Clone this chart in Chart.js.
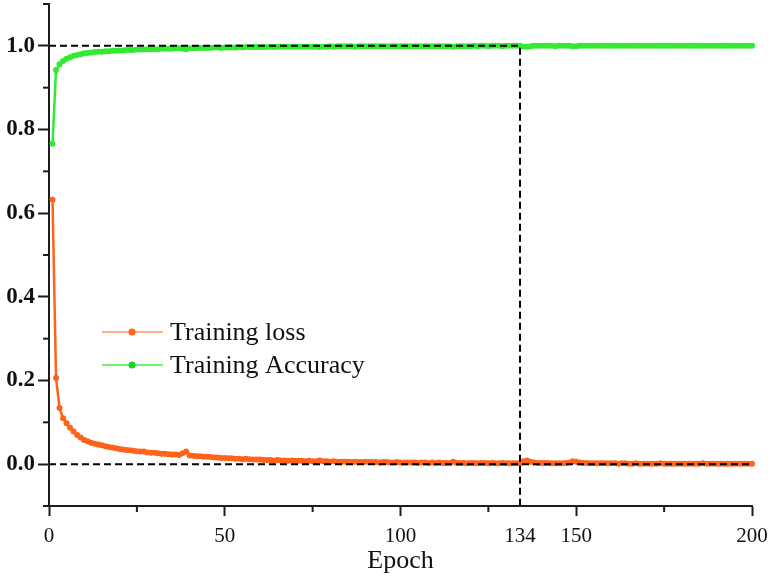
<!DOCTYPE html>
<html>
<head>
<meta charset="utf-8">
<script src="https://cdn.jsdelivr.net/npm/chart.js@4"></script>
<style>
  body { margin: 0; background: #fff; }
  #wrap { width: 771px; height: 579px; }
</style>
</head>
<body>
<div id="wrap"><canvas id="chart" width="771" height="579"></canvas></div>
<script>
// training loss per epoch (epochs 1..200)
const lossValues = [
  0.632, 0.206, 0.134, 0.110, 0.098, 0.087, 0.078, 0.070, 0.064, 0.058,
  0.055, 0.051, 0.049, 0.047, 0.045, 0.043, 0.041, 0.040, 0.038, 0.036,
  0.035, 0.034, 0.033, 0.032, 0.031, 0.030, 0.030, 0.028, 0.027, 0.027,
  0.026, 0.025, 0.025, 0.024, 0.023, 0.023, 0.022, 0.026, 0.030, 0.021,
  0.020, 0.019, 0.019, 0.018, 0.018, 0.017, 0.016, 0.016, 0.015, 0.015,
  0.014, 0.014, 0.013, 0.013, 0.012, 0.013, 0.012, 0.011, 0.011, 0.011,
  0.010, 0.010, 0.010, 0.009, 0.010, 0.009, 0.009, 0.008, 0.009, 0.008,
  0.008, 0.008, 0.007, 0.008, 0.007, 0.007, 0.009, 0.007, 0.007, 0.006,
  0.007, 0.006, 0.006, 0.006, 0.006, 0.005, 0.006, 0.005, 0.005, 0.006,
  0.005, 0.005, 0.005, 0.004, 0.005, 0.005, 0.004, 0.004, 0.005, 0.004,
  0.004, 0.004, 0.004, 0.004, 0.003, 0.004, 0.004, 0.003, 0.004, 0.003,
  0.004, 0.003, 0.003, 0.003, 0.006, 0.003, 0.003, 0.003, 0.002, 0.003,
  0.003, 0.002, 0.003, 0.003, 0.002, 0.003, 0.002, 0.002, 0.003, 0.002,
  0.002, 0.002, 0.002, 0.002, 0.007, 0.009, 0.006, 0.004, 0.003, 0.003,
  0.003, 0.003, 0.002, 0.002, 0.002, 0.002, 0.003, 0.004, 0.007, 0.006,
  0.004, 0.003, 0.003, 0.002, 0.002, 0.002, 0.002, 0.002, 0.002, 0.002,
  0.002, 0.001, 0.002, 0.002, 0.001, 0.001, 0.002, 0.001, 0.001, 0.001,
  0.001, 0.001, 0.001, 0.002, 0.001, 0.001, 0.001, 0.001, 0.001, 0.001,
  0.001, 0.001, 0.001, 0.001, 0.001, 0.002, 0.001, 0.001, 0.001, 0.001,
  0.001, 0.001, 0.001, 0.001, 0.001, 0.001, 0.001, 0.001, 0.001, 0.001
];

// training accuracy per epoch
const accValues = [
  0.766, 0.942, 0.956, 0.964, 0.969, 0.973, 0.976, 0.978, 0.980, 0.982,
  0.983, 0.984, 0.985, 0.986, 0.986, 0.987, 0.987, 0.988, 0.988, 0.989,
  0.989, 0.990, 0.990, 0.990, 0.991, 0.991, 0.991, 0.992, 0.992, 0.992,
  0.992, 0.993, 0.993, 0.993, 0.993, 0.994, 0.994, 0.993, 0.992, 0.994,
  0.994, 0.995, 0.995, 0.995, 0.995, 0.995, 0.996, 0.996, 0.995, 0.996,
  0.996, 0.996, 0.996, 0.997, 0.996, 0.997, 0.997, 0.997, 0.997, 0.997,
  0.997, 0.997, 0.998, 0.997, 0.998, 0.998, 0.998, 0.998, 0.998, 0.998,
  0.998, 0.998, 0.998, 0.998, 0.998, 0.998, 0.997, 0.998, 0.998, 0.999,
  0.998, 0.999, 0.999, 0.999, 0.999, 0.999, 0.998, 0.999, 0.999, 0.999,
  0.999, 0.999, 0.999, 0.999, 0.999, 0.999, 0.999, 0.999, 0.999, 0.999,
  0.999, 0.999, 0.999, 0.999, 0.999, 0.999, 0.999, 0.999, 0.999, 0.999,
  0.999, 0.999, 0.999, 0.999, 0.998, 0.999, 0.999, 0.999, 0.999, 0.999,
  1.000, 0.999, 1.000, 1.000, 0.999, 1.000, 1.000, 1.000, 0.999, 1.000,
  1.000, 1.000, 1.000, 1.000, 0.998, 0.998, 0.999, 1.000, 1.000, 1.000,
  1.000, 1.000, 1.000, 0.999, 1.000, 1.000, 1.000, 1.000, 0.999, 0.999,
  1.000, 1.000, 1.000, 1.000, 1.000, 1.000, 1.000, 1.000, 1.000, 1.000,
  1.000, 1.000, 1.000, 1.000, 1.000, 1.000, 1.000, 1.000, 1.000, 1.000,
  1.000, 1.000, 1.000, 1.000, 1.000, 1.000, 1.000, 1.000, 1.000, 1.000,
  1.000, 1.000, 1.000, 1.000, 1.000, 1.000, 1.000, 1.000, 1.000, 1.000,
  1.000, 1.000, 1.000, 1.000, 1.000, 1.000, 1.000, 1.000, 1.000, 1.000
];

const epochs = lossValues.map((_, i) => i + 1);

const xTicks = [0, 50, 100, 134, 150, 200];
const xMinor = [25, 75, 125, 175];
const yTicks = [0.0, 0.2, 0.4, 0.6, 0.8, 1.0];
const yMinor = [-0.1, 0.1, 0.3, 0.5, 0.7, 0.9, 1.1];

// dashed guide lines (data units)
const guideX = [0, 134, 134];
const guideY = [1.0, 1.0, -0.1];
const zeroX = [0, 200];
const zeroY = [0, 0];

const seriesNames = ['Training loss', 'Training Accuracy'];

const ORANGE = '#ff6219';
const ORANGE_LIGHT = '#ff9559';
const GREEN = '#33ea33';
const GREEN_LIGHT = '#3cf53c';
const AXIS = '#1c1c1c';
const FONT = '"Liberation Serif", "Times New Roman", serif';

const pts = (xs, ys) => xs.map((x, i) => ({ x: x, y: ys[i] }));

const extras = {
  id: 'extras',
  afterDraw(chart) {
    const { ctx, scales: { x, y } } = chart;
    ctx.save();
    // minor ticks
    ctx.strokeStyle = AXIS;
    ctx.lineWidth = 2;
    xMinor.forEach(v => {
      const px = x.getPixelForValue(v);
      ctx.beginPath();
      ctx.moveTo(px, y.bottom);
      ctx.lineTo(px, y.bottom + 6);
      ctx.stroke();
    });
    yMinor.forEach(v => {
      const py = y.getPixelForValue(v);
      ctx.beginPath();
      ctx.moveTo(x.left, py);
      ctx.lineTo(x.left - 6, py);
      ctx.stroke();
    });

    // legend
    const items = [
      { label: seriesNames[0], line: ORANGE_LIGHT, dot: ORANGE, y: 332 },
      { label: seriesNames[1], line: GREEN_LIGHT, dot: '#22d022', y: 365 }
    ];
    ctx.font = '26px ' + FONT;
    ctx.textBaseline = 'middle';
    ctx.textAlign = 'left';
    items.forEach(it => {
      ctx.strokeStyle = it.line;
      ctx.lineWidth = 1.6;
      ctx.beginPath();
      ctx.moveTo(102, it.y);
      ctx.lineTo(163, it.y);
      ctx.stroke();
      ctx.fillStyle = it.dot;
      ctx.beginPath();
      ctx.arc(132, it.y, 3.5, 0, Math.PI * 2);
      ctx.fill();
      ctx.fillStyle = '#111';
      ctx.fillText(it.label, 170, it.y + 1);
    });
    ctx.restore();
  }
};

new Chart(document.getElementById('chart'), {
  type: 'line',
  data: {
    datasets: [
      {
        label: 'guide',
        data: pts(guideX, guideY),
        borderColor: '#000',
        borderWidth: 2,
        borderDash: [7, 4],
        pointRadius: 0,
        order: 0
      },
      {
        label: 'zero',
        data: pts(zeroX, zeroY),
        borderColor: '#000',
        borderWidth: 2,
        borderDash: [7, 4],
        pointRadius: 0,
        order: 0
      },
      {
        label: seriesNames[0],
        data: pts(epochs, lossValues),
        borderColor: ORANGE,
        backgroundColor: ORANGE,
        borderWidth: 2.5,
        pointRadius: 3,
        pointBorderWidth: 0,
        order: 2
      },
      {
        label: seriesNames[1],
        data: pts(epochs, accValues),
        borderColor: GREEN,
        backgroundColor: GREEN,
        borderWidth: 2.5,
        pointRadius: 3,
        pointBorderWidth: 0,
        order: 2
      }
    ]
  },
  options: {
    responsive: false,
    animation: false,
    clip: false,
    layout: { padding: { top: 3, right: 19, left: 0, bottom: 0 } },
    plugins: { legend: { display: false }, tooltip: { enabled: false } },
    scales: {
      x: {
        type: 'linear',
        min: 0,
        max: 200,
        afterFit: s => { s.height = 73; s.paddingLeft = 0; s.paddingRight = 0; },
        afterBuildTicks: s => { s.ticks = xTicks.map(v => ({ value: v })); },
        grid: {
          drawOnChartArea: false,
          drawTicks: true,
          tickLength: 10,
          tickWidth: 2,
          tickColor: c => (c.tick && c.tick.value === 134 ? 'rgba(0,0,0,0)' : AXIS)
        },
        border: { display: true, color: AXIS, width: 2 },
        ticks: {
          autoSkip: false,
          maxRotation: 0,
          padding: 8,
          color: '#111',
          font: { family: FONT, size: 21 },
          callback: v => String(v)
        },
        title: {
          display: true,
          text: 'Epoch',
          color: '#111',
          font: { family: FONT, size: 26 },
          padding: { top: 0, bottom: 2 }
        }
      },
      y: {
        min: -0.1,
        max: 1.1,
        afterFit: s => { s.width = 49; s.paddingTop = 0; s.paddingBottom = 0; },
        afterBuildTicks: s => { s.ticks = yTicks.map(v => ({ value: v })); },
        grid: {
          drawOnChartArea: false,
          drawTicks: true,
          tickLength: 11,
          tickWidth: 2,
          tickColor: AXIS
        },
        border: { display: true, color: AXIS, width: 2 },
        ticks: {
          padding: 3,
          color: '#111',
          font: { family: FONT, size: 23, weight: 'bold' },
          callback: v => v.toFixed(1)
        }
      }
    }
  },
  plugins: [extras]
});
</script>
</body>
</html>
